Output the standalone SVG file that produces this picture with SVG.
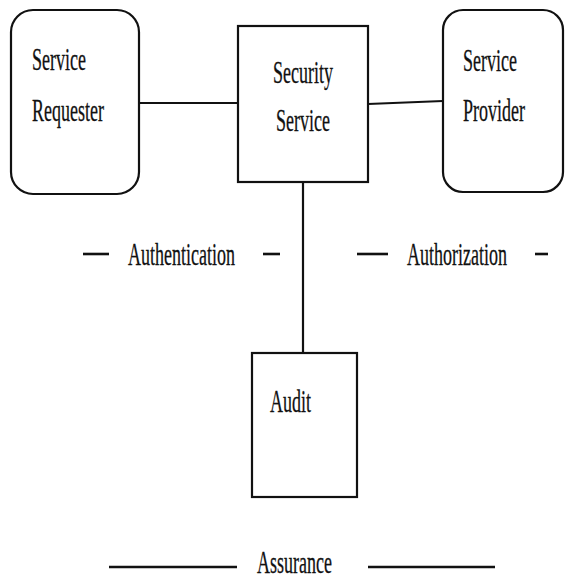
<svg xmlns="http://www.w3.org/2000/svg" width="567" height="579" viewBox="0 0 567 579">
  <style>
    .box { fill: #fff; stroke: #111; stroke-width: 2.2; }
    .wire { stroke: #111; stroke-width: 2.2; fill: none; }
    .dash { stroke: #111; stroke-width: 2.6; fill: none; }
    .lbl { font-family: "Liberation Serif", "Times New Roman", serif; font-size: 32px; fill: #111; stroke: #111; stroke-width: 0.3; }
  </style>
  <rect width="567" height="579" fill="#fff"/>

  <g id="connectors">
    <line class="wire" x1="139" y1="103" x2="238" y2="103"/>
    <line class="wire" x1="368" y1="104" x2="443" y2="101"/>
    <line class="wire" x1="303" y1="182" x2="303" y2="353"/>
  </g>

  <!-- labels are set in a narrow serif: scaled to 0.5625 horizontally -->
  <g id="service-requester">
    <rect class="box" x="11" y="10" width="128" height="184" rx="22" ry="22"/>
    <text class="lbl" transform="translate(32,70) scale(0.5625,1)">Service</text>
    <text class="lbl" transform="translate(32,121) scale(0.5625,1)">Requester</text>
  </g>

  <g id="security-service">
    <rect class="box" x="238" y="26" width="130" height="156"/>
    <text class="lbl" transform="translate(273,83) scale(0.5625,1)">Security</text>
    <text class="lbl" transform="translate(276,131) scale(0.5625,1)">Service</text>
  </g>

  <g id="service-provider">
    <rect class="box" x="443" y="10" width="120" height="182" rx="20" ry="20"/>
    <text class="lbl" transform="translate(463,71) scale(0.5625,1)">Service</text>
    <text class="lbl" transform="translate(463,121) scale(0.5625,1)">Provider</text>
  </g>

  <g id="authentication">
    <line class="dash" x1="83" y1="254" x2="109" y2="254"/>
    <text class="lbl" transform="translate(128,265) scale(0.5625,1)">Authentication</text>
    <line class="dash" x1="263" y1="254" x2="280" y2="254"/>
  </g>

  <g id="authorization">
    <line class="dash" x1="357" y1="254" x2="388" y2="254"/>
    <text class="lbl" transform="translate(407,265) scale(0.5625,1)">Authorization</text>
    <line class="dash" x1="535" y1="254" x2="548" y2="254"/>
  </g>

  <g id="audit">
    <rect class="box" x="252" y="353" width="105" height="144"/>
    <text class="lbl" transform="translate(270,412) scale(0.5625,1)">Audit</text>
  </g>

  <g id="assurance">
    <line class="dash" x1="109" y1="567" x2="237" y2="567"/>
    <text class="lbl" transform="translate(257,573) scale(0.5625,1)">Assurance</text>
    <line class="dash" x1="368" y1="567" x2="495" y2="567"/>
  </g>
</svg>
